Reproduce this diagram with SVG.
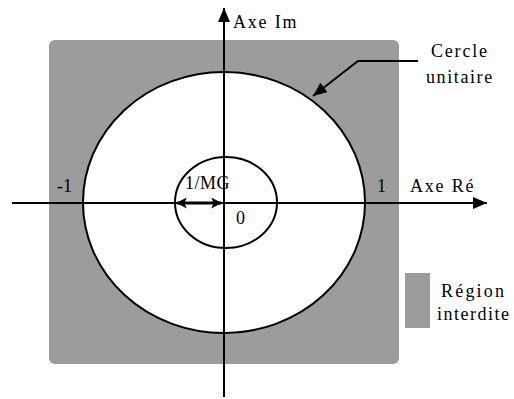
<svg xmlns="http://www.w3.org/2000/svg" width="514" height="399" viewBox="0 0 514 399">
<style>
text{font-family:"Liberation Serif","Times New Roman",serif;fill:#000;font-size:18px}
.ln{stroke:#000;stroke-width:2;fill:none}
.wh{fill:#fff;stroke:#000;stroke-width:2}
</style>
<defs>
<marker id="ah" viewBox="0 0 10 10" refX="9" refY="5" markerWidth="11" markerHeight="11" markerUnits="userSpaceOnUse" orient="auto-start-reverse">
<path d="M0,0 L10,5 L0,10 L2.5,5 z" fill="#000"/>
</marker>
<marker id="ahb" viewBox="0 0 14 12" refX="14" refY="6" markerWidth="14" markerHeight="12" markerUnits="userSpaceOnUse" orient="auto-start-reverse">
<path d="M0,0 L14,6 L0,12 z" fill="#000"/>
</marker>
</defs>
<g id="region">
<rect x="49" y="40" width="350" height="324" rx="6" fill="#9c9c9c"/>
</g>
<g id="cercle-unitaire">
<ellipse class="wh" cx="224" cy="202.5" rx="141" ry="130.5"/>
</g>
<g id="cercle-mg">
<ellipse class="wh" cx="226" cy="202.5" rx="51" ry="45.5"/>
</g>
<g id="connectors">
<line class="ln" x1="12" y1="203" x2="487" y2="203" marker-end="url(#ahb)"/>
<line class="ln" x1="224" y1="397" x2="224" y2="8" marker-end="url(#ahb)"/>
<line x1="177" y1="203" x2="221" y2="203" stroke="#000" stroke-width="3" marker-start="url(#ah)" marker-end="url(#ah)"/>
<polyline class="ln" points="418,61 358,61 313,96" marker-end="url(#ahb)"/>
</g>
<g id="labels" font-family="Liberation Serif, Times New Roman, serif">
<text x="233" y="28" letter-spacing="1.8">Axe Im</text>
<text x="410" y="192" letter-spacing="1.8">Axe Ré</text>
<text x="377" y="192">1</text>
<text x="57" y="192">-1</text>
<text x="236" y="224">0</text>
<text x="185" y="189" font-size="13" letter-spacing="0.5">1/MG</text>
<text x="431" y="57" letter-spacing="1.8">Cercle</text>
<text x="426" y="83" letter-spacing="1.6">unitaire</text>
</g>
<g id="legend">
<rect x="405" y="273" width="25" height="55" fill="#9c9c9c"/>
<text x="441" y="297" letter-spacing="2.2" font-family="Liberation Serif, Times New Roman, serif">Région</text>
<text x="437" y="320" letter-spacing="1.5" font-family="Liberation Serif, Times New Roman, serif">interdite</text>
</g>
</svg>
